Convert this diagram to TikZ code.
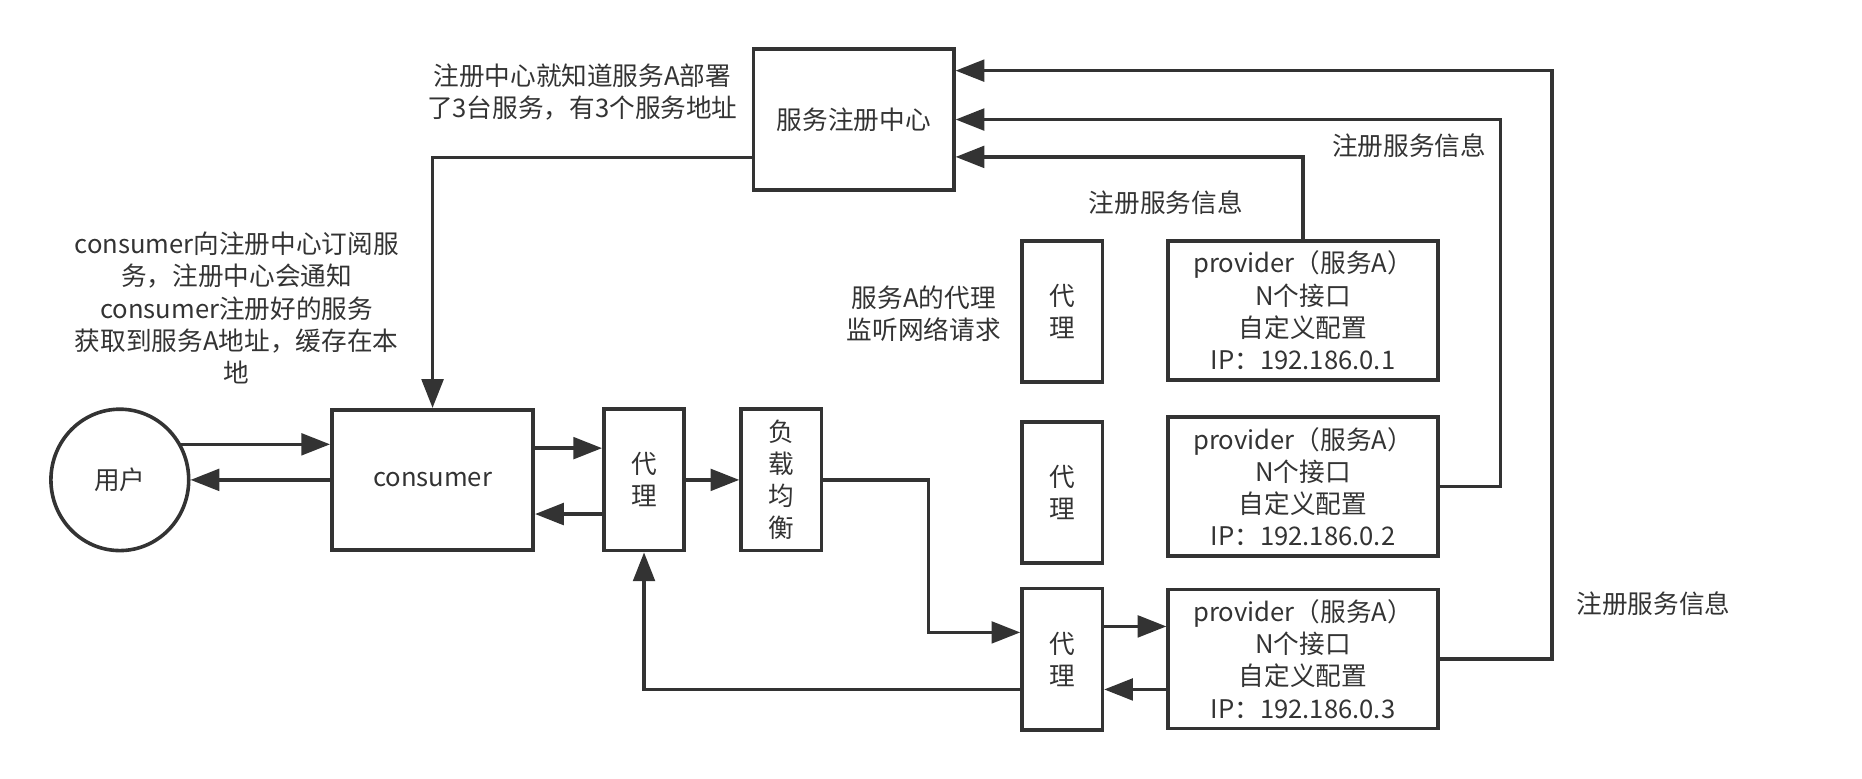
\documentclass[tikz,border=0pt]{standalone}
\usepackage{fontspec}
\setmainfont{Noto Sans CJK SC}
\usetikzlibrary{arrows.meta, positioning, shapes.geometric}
\definecolor{ink}{HTML}{333333}

\begin{document}
\begin{tikzpicture}[x=0.5pt, y=-0.5pt, line width=1.5pt, color=ink,
        font=\fontsize{10.7pt}{13.4pt}\selectfont,
        box/.style={draw, inner sep=0pt, align=center},
        tall/.style={box, minimum width=33.5pt, minimum height=59pt},
        prov/.style={box, minimum width=112.5pt, minimum height=58pt},
        arr/.style={-{Triangle[length=12pt, width=9pt]}},
        note/.style={align=center}]
        \useasboundingbox (0,0) rectangle (1554,650);

        \node[ellipse, draw, minimum width=57.5pt, minimum height=59pt] (user) at (100,400.5) {用户};
        \node[box, minimum width=84pt, minimum height=58.5pt] (consumer) at (361,400.5) {consumer};
        \node[tall] (proxyL) [right=28pt of consumer] {代\\理};
        \node[tall] (lb) [right=22.25pt of proxyL] {负\\载\\均\\衡};
        \node[box, minimum width=83.5pt, minimum height=58.75pt] (registry) at (712.5,99.75) {服务注册中心};

        \node[prov] (provA) at (1087.5,259) {provider（服务A）\\N个接口\\自定义配置\\IP：192.186.0.1};
        \node[prov] (provB) at (1087.5,406) {provider（服务A）\\N个接口\\自定义配置\\IP：192.186.0.2};
        \node[prov] (provC) at (1087.5,550) {provider（服务A）\\N个接口\\自定义配置\\IP：192.186.0.3};
        \node[tall] (proxyA) at (886.5,260) {代\\理};
        \node[tall] (proxyB) at (886.5,411) {代\\理};
        \node[tall] (proxyC) at (886.5,550) {代\\理};

        \node[note] (regnote) at (486,76.5) {注册中心就知道服务A部署\\了3台服务，有3个服务地址};
        \node[note] (subnote) at (197.5,257) {consumer向注册中心订阅服\\务，注册中心会通知\\consumer注册好的服务\\获取到服务A地址，缓存在本\\地};
        \node[note] (proxynote) at (771,262) {服务A的代理\\监听网络请求};
        \node (regA) at (973,169) {注册服务信息};
        \node (regB) at (1176,121.5) {注册服务信息};
        \node (regC) at (1380,503.5) {注册服务信息};

        \draw[arr] (user.30) -- (user.30 -| consumer.west);
        \draw[arr] (consumer.west) -- (user.east);
        \draw[arr] ([yshift=13.25pt]consumer.east) -- ([yshift=13.25pt]proxyL.west);
        \draw[arr] ([yshift=-14.25pt]proxyL.west) -- ([yshift=-14.25pt]consumer.east);
        \draw[arr] (proxyL) -- (lb);
        \draw[arr] (lb.east) -- ++(44pt,0) |- ([yshift=11.1pt]proxyC.west);
        \draw[arr] ([yshift=13.6pt]proxyC.east) -- ([yshift=13.6pt]provC.west);
        \draw[arr] ([yshift=-12.7pt]provC.west) -- ([yshift=-12.7pt]proxyC.east);
        \draw[arr] ([yshift=-12.7pt]proxyC.west) -| (proxyL.south);

        \draw[arr] ([yshift=-15.9pt]registry.west) -| (consumer.north);
        \draw[arr] (provA.north) |- ([yshift=-15.6pt]registry.east);
        \draw[arr] (provB.east) -- ++(25.35pt,0) |- (registry.east);
        \draw[arr] (provC.east) -- ++(47pt,0) |- ([yshift=20.4pt]registry.east);
\end{tikzpicture}
\end{document}
